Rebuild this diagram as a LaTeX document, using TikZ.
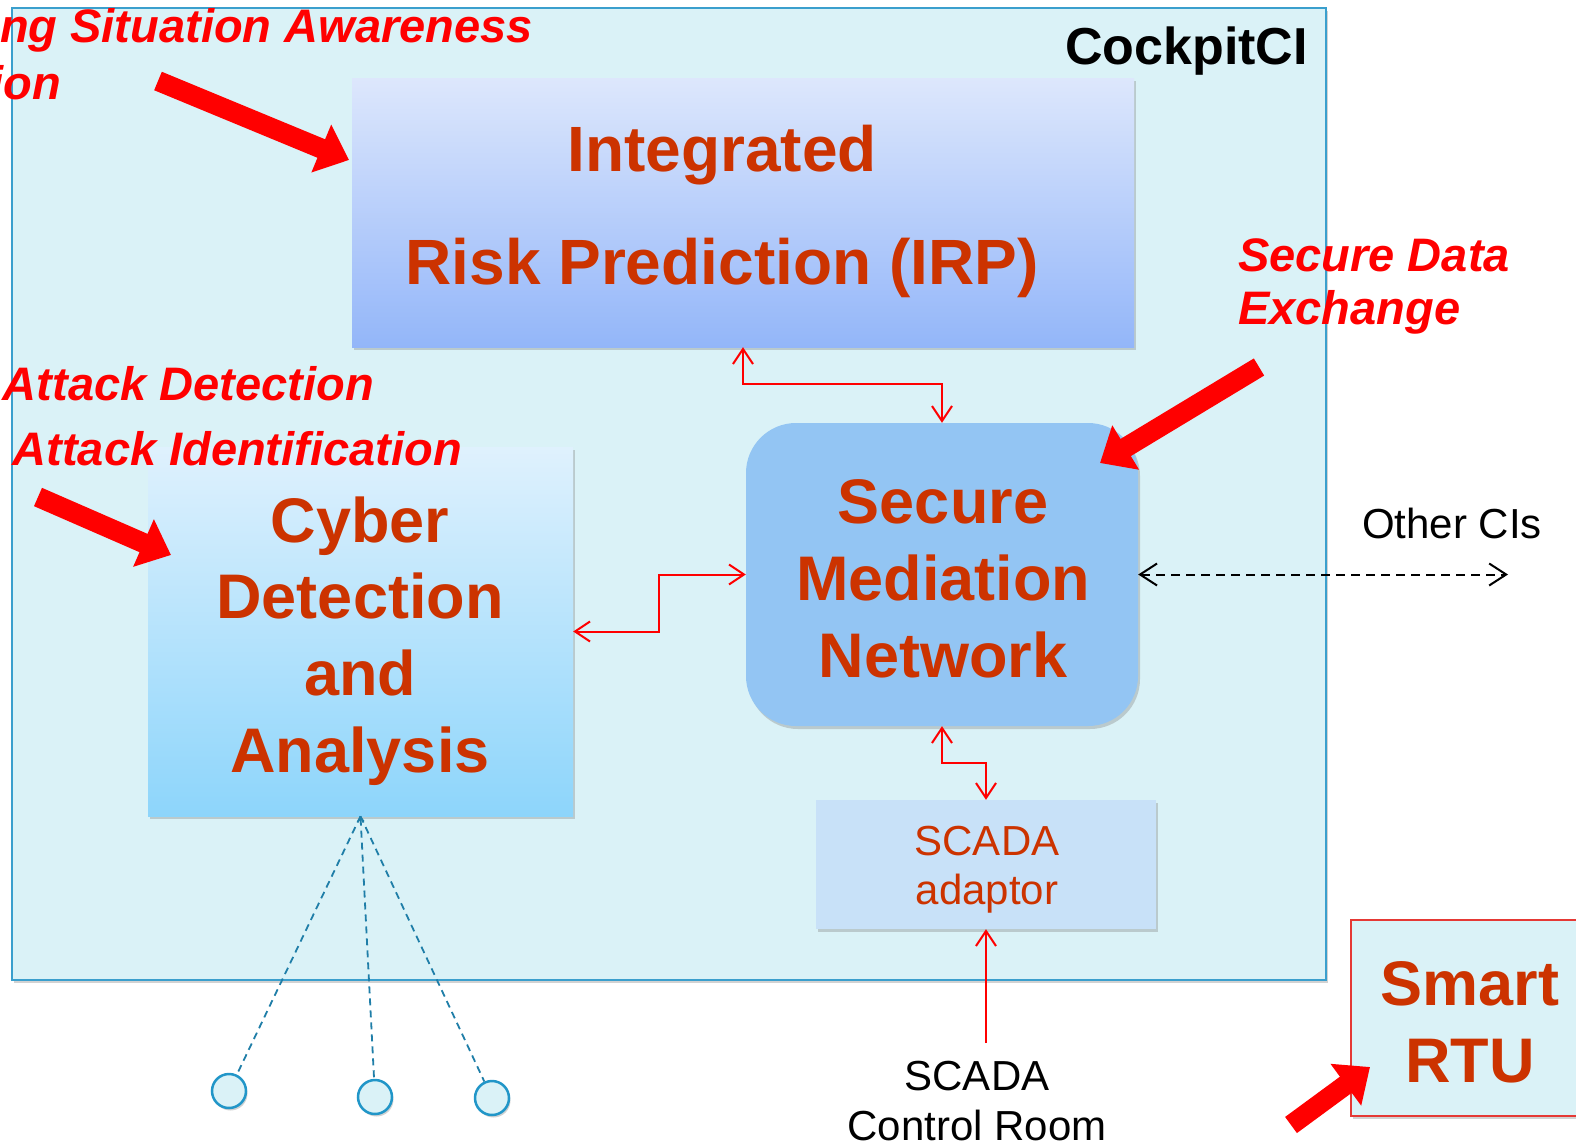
\documentclass[tikz,border=0pt]{standalone}
\usepackage{fontspec}
\setmainfont{Liberation Sans}
\usetikzlibrary{arrows.meta,shadows,calc}
\definecolor{cibg}{HTML}{DAF2F7}
\definecolor{ciborder}{HTML}{3A9FCD}
\definecolor{txtor}{HTML}{CC3300}
\definecolor{irptop}{HTML}{DDE7FC}
\definecolor{irpbot}{HTML}{93B6F9}
\definecolor{cdatop}{HTML}{DFF1FD}
\definecolor{cdabot}{HTML}{8DD5FB}
\definecolor{smnfill}{HTML}{93C5F3}
\definecolor{adfill}{HTML}{C8E1F8}
\definecolor{dashblue}{HTML}{1F7EA8}
\definecolor{circborder}{HTML}{2196C8}
\definecolor{rtuborder}{HTML}{E53935}
\begin{document}
\begin{tikzpicture}[x=1pt,y=-1pt,
  box/.style={rectangle, inner sep=0pt, drop shadow={shadow xshift=2pt,shadow yshift=-3pt,opacity=0.35}},
  bigtxt/.style={text=txtor, font=\fontsize{63}{76}\selectfont\bfseries, anchor=base, inner sep=0pt},
  irptxt/.style={text=txtor, font=\fontsize{64}{76}\selectfont\bfseries, anchor=base, inner sep=0pt},
  midtxt/.style={font=\fontsize{42}{50}\selectfont, anchor=base, inner sep=0pt},
  redlbl/.style={text=red, font=\fontsize{47}{56}\selectfont\bfseries\itshape, inner sep=0pt},
  redconn/.style={draw=red, line width=2pt, {Straight Barb[length=15pt,width=20pt]}-{Straight Barb[length=15pt,width=20pt]}},
  redone/.style={draw=red, line width=2pt, -{Straight Barb[length=15pt,width=20pt]}},
  bigarrow/.style={draw=red, line width=20pt, -{Triangle[length=30pt,width=50pt]}},
  probe/.style={circle, minimum size=34pt, inner sep=0pt, draw=circborder, line width=2.5pt, fill=cibg, drop shadow={shadow xshift=1.5pt,shadow yshift=-2.5pt,opacity=0.35}},
  probeline/.style={draw=dashblue, line width=1.8pt, dash pattern=on 7pt off 5pt}
]
\useasboundingbox (0,0) rectangle (1576,1143);
\clip (0,0) rectangle (1576,1143);
\fill[white] (0,0) rectangle (1576,1143);

% main CockpitCI box
\node[box, draw=ciborder, line width=2.5pt, fill=cibg, minimum width=1314pt, minimum height=972pt] (cockpit) at (669,494) {};
\node[anchor=base east, font=\fontsize{52}{60}\selectfont\bfseries, inner sep=0pt] (cockpitlbl) at (1308,64) {CockpitCI};

% IRP
\node[box, top color=irptop, bottom color=irpbot, minimum width=782pt, minimum height=269pt] (irp) at (743,212.5) {};
\node[irptxt] (irp1) at (722,171) {Integrated};
\node[irptxt] (irp2) at (722,284) {Risk Prediction (IRP)};

% Cyber Detection and Analysis
\node[box, top color=cdatop, bottom color=cdabot, minimum width=425pt, minimum height=369pt] (cyber) at (360.5,631.5) {};
\node[bigtxt] (cy1) at (360,542) {Cyber};
\node[bigtxt] (cy2) at (360,618) {Detection};
\node[bigtxt] (cy3) at (360,695) {and};
\node[bigtxt] (cy4) at (360,772) {Analysis};

% Secure Mediation Network
\node[box, fill=smnfill, rounded corners=50pt, minimum width=392pt, minimum height=303pt] (smn) at (942,574.5) {};
\node[bigtxt] (smn1) at (943,523) {Secure};
\node[bigtxt] (smn2) at (943,600) {Mediation};
\node[bigtxt] (smn3) at (943,677) {Network};

% SCADA adaptor
\node[box, fill=adfill, minimum width=340pt, minimum height=129pt] (adaptor) at (986,864.5) {};
\node[midtxt, text=txtor] (ad1) at (987,855) {SCADA};
\node[midtxt, text=txtor] (ad2) at (987,904) {adaptor};

% Smart RTU
\node[box, draw=rtuborder, line width=2pt, fill=cibg, minimum width=239pt, minimum height=196pt] (rtu) at (1470.5,1018) {};
\node[bigtxt] (rtu1) at (1470,1005) {Smart};
\node[bigtxt] (rtu2) at (1470,1082) {RTU};

% outside labels
\node[midtxt] (other) at (1452,538) {Other CIs};
\node[midtxt] (scr1) at (977,1090) {SCADA};
\node[midtxt] (scr2) at (977,1140) {Control Room};

% red labels
\node[redlbl, anchor=base east] (lblsa) at (533,42) {ng Situation Awareness};
\node[redlbl, anchor=base east] (lblion) at (61,99) {ion};
\node[redlbl, anchor=base east] (lblad) at (374,400) {Attack Detection};
\node[redlbl, anchor=base east] (lblai) at (462,465) {Attack Identification};
\node[redlbl, anchor=base west] (lblsd1) at (1238,271) {Secure Data};
\node[redlbl, anchor=base west] (lblsd2) at (1238,324) {Exchange};

% connectors
\draw[redconn] (irp.south) -- ++(0,37) -| (smn.north);
\draw[redconn] (cyber.east) -- ++(86,0) |- (smn.west);
\draw[redconn] (smn.south) -- ++(0,37) -| (adaptor.north);
\coordinate (crtop) at (986,1043);
\draw[redone] (crtop) -- (adaptor.south);
\coordinate (otherend) at (1508,574.5);
\draw[line width=2pt, dash pattern=on 9pt off 6pt, {Straight Barb[length=17pt,width=22pt]}-{Straight Barb[length=17pt,width=22pt]}] (smn.east) -- (otherend);

% probes
\node[probe] (p1) at (229,1091) {};
\node[probe] (p2) at (375,1097) {};
\node[probe] (p3) at (492,1098) {};
\draw[probeline] (cyber.south) -- (p1);
\draw[probeline, {Straight Barb[length=4pt,width=6pt]}-] (cyber.south) -- (p2);
\draw[probeline] (cyber.south) -- (p3);

% big red arrows
\coordinate (a1s) at (158,81);   \coordinate (a1e) at (349,160);
\coordinate (a2s) at (38,497);   \coordinate (a2e) at (171,555);
\coordinate (a3s) at (1259,367); \coordinate (a3e) at (1100,463);
\coordinate (a4s) at (1291,1125);\coordinate (a4e) at (1370,1067);
\draw[bigarrow] (a1s) -- (a1e);
\draw[bigarrow] (a2s) -- (a2e);
\draw[bigarrow] (a3s) -- (a3e);
\draw[bigarrow] (a4s) -- (a4e);
\end{tikzpicture}
\end{document}
